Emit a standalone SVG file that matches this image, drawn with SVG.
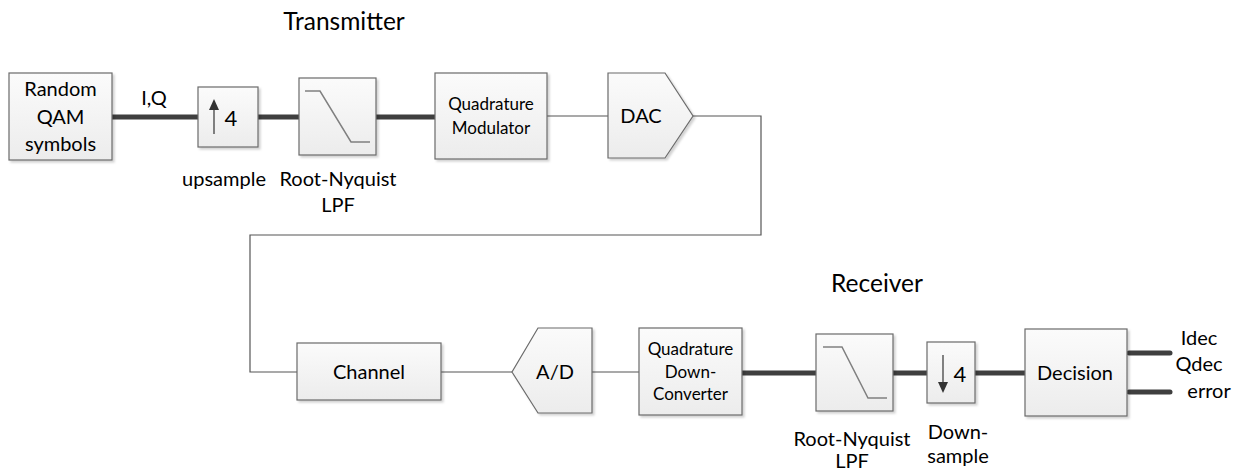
<svg xmlns="http://www.w3.org/2000/svg" width="1239" height="472" viewBox="0 0 1239 472">
<style>
  .box{fill:url(#g);stroke:#6b6b6b;stroke-width:1.2;filter:url(#sh)}
  .t{font-family:Lato,"Open Sans","Liberation Sans",sans-serif;fill:#000;text-anchor:middle}
  .lbl{font-size:20px}
  .ttl{font-size:24.5px}
  .in{font-size:20px}
  .sm{font-size:17px}
  .thin{fill:none;stroke:#555;stroke-width:1.2}
  .thick{fill:none;stroke:#3f3f3f;stroke-width:5}
  .out{fill:none;stroke:#3f3f3f;stroke-width:5;stroke-linecap:round}
  .curve{fill:none;stroke:#808080;stroke-width:1.5}
</style>
<defs>
  <linearGradient id="g" x1="0" y1="0" x2="0" y2="1">
    <stop offset="0" stop-color="#fbfbfb"/>
    <stop offset="1" stop-color="#ececec"/>
  </linearGradient>
  <filter id="sh" x="-10%" y="-10%" width="130%" height="130%">
    <feDropShadow dx="2" dy="2" stdDeviation="1" flood-color="#000" flood-opacity="0.18"/>
  </filter>
</defs>
<rect width="1239" height="472" fill="#fff"/>

<g id="titles">
  <text class="t ttl" x="344" y="30">Transmitter</text>
  <text class="t ttl" x="877" y="292">Receiver</text>
</g>

<g id="connectors">
  <line class="thick" x1="112" y1="117" x2="198" y2="117"/>
  <line class="thick" x1="258" y1="117" x2="299" y2="117"/>
  <line class="thick" x1="376" y1="117" x2="435" y2="117"/>
  <line class="thin" x1="547" y1="116" x2="608" y2="116"/>
  <polyline class="thin" points="693,116 761,116 761,235 250,235 250,372 297,372"/>
  <line class="thin" x1="441" y1="372" x2="512" y2="372"/>
  <line class="thin" x1="592" y1="372" x2="639" y2="372"/>
  <line class="thick" x1="742" y1="373" x2="816" y2="373"/>
  <line class="thick" x1="893" y1="373" x2="927" y2="373"/>
  <line class="thick" x1="975" y1="373" x2="1025" y2="373"/>
  <line class="out" x1="1129" y1="353" x2="1170" y2="353"/>
  <line class="out" x1="1129" y1="392" x2="1170" y2="392"/>
  <text class="t lbl" x="154" y="105">I,Q</text>
</g>

<g id="qam">
  <rect class="box" x="9" y="73" width="103" height="87"/>
  <text class="t in" x="60.5" y="96">Random</text>
  <text class="t in" x="60.5" y="124">QAM</text>
  <text class="t in" x="60.5" y="151">symbols</text>
</g>

<g id="upsample">
  <rect class="box" x="198" y="87" width="60" height="60"/>
  <line x1="214" y1="108" x2="214" y2="134" stroke="#333" stroke-width="1.2"/>
  <polygon points="209,110 219,110 214,99" fill="#333"/>
  <text class="t" style="font-size:22px" x="231" y="126">4</text>
  <text class="t lbl" x="224" y="186">upsample</text>
</g>

<g id="lpf1">
  <rect class="box" x="299" y="78" width="77" height="77"/>
  <polyline class="curve" points="305,91 320,91 351,142 370,142"/>
  <text class="t lbl" x="338" y="186">Root-Nyquist</text>
  <text class="t lbl" x="338" y="212">LPF</text>
</g>

<g id="qmod">
  <rect class="box" x="435" y="73" width="112" height="86"/>
  <text class="t sm" x="491" y="110">Quadrature</text>
  <text class="t sm" x="491" y="134">Modulator</text>
</g>

<g id="dac">
  <polygon class="box" points="608,73 665,73 693,116 665,158 608,158"/>
  <text class="t in" x="641" y="123">DAC</text>
</g>

<g id="channel">
  <rect class="box" x="297" y="343" width="144" height="57"/>
  <text class="t in" x="369" y="379">Channel</text>
</g>

<g id="adc">
  <polygon class="box" points="538,328 592,328 592,413 538,413 512,372"/>
  <text class="t in" x="555" y="379">A/D</text>
</g>

<g id="qdc">
  <rect class="box" x="639" y="328" width="103" height="87"/>
  <text class="t sm" x="690.5" y="355">Quadrature</text>
  <text class="t sm" x="690.5" y="378">Down-</text>
  <text class="t sm" x="690.5" y="400">Converter</text>
</g>

<g id="lpf2">
  <rect class="box" x="816" y="334" width="77" height="77"/>
  <polyline class="curve" points="823,347 842,347 868,398 887,398"/>
  <text class="t lbl" x="852" y="446">Root-Nyquist</text>
  <text class="t lbl" x="852" y="468">LPF</text>
</g>

<g id="downsample">
  <rect class="box" x="927" y="342" width="48" height="61"/>
  <line x1="943" y1="355" x2="943" y2="384" stroke="#333" stroke-width="1.2"/>
  <polygon points="938,382 948,382 943,393" fill="#333"/>
  <text class="t" style="font-size:22px" x="960" y="382">4</text>
  <text class="t lbl" x="958" y="439">Down-</text>
  <text class="t lbl" x="958" y="463">sample</text>
</g>

<g id="decision">
  <rect class="box" x="1025" y="329" width="102" height="87"/>
  <text class="t in" x="1075" y="380">Decision</text>
  <text class="t lbl" x="1199" y="345">Idec</text>
  <text class="t lbl" x="1199" y="371">Qdec</text>
  <text class="t lbl" x="1209" y="398">error</text>
</g>
</svg>
